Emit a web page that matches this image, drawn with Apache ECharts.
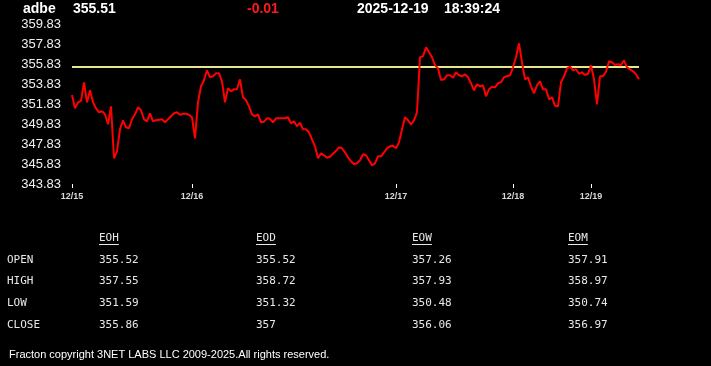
<!DOCTYPE html>
<html>
<head>
<meta charset="utf-8">
<script src="https://cdn.jsdelivr.net/npm/echarts@6/dist/echarts.min.js"></script>
<style>
html,body{margin:0;padding:0;background:#000;}
#chart{width:711px;height:366px;}
</style>
</head>
<body>
<div id="chart"></div>
<script>
// ---- data ----
const symbol = 'adbe';
const lastPrice = '355.51';
const change = '-0.01';
const quoteDate = '2025-12-19';
const quoteTime = '18:39:24';
const refLine = 355.52;

const dayLabels = ['12/15', '12/16', '12/17', '12/18', '12/19'];
const dec15 = [352.73, 351.4, 352.0, 352.15, 354.0, 352.0, 353.2, 352.0, 351.4, 351.0,
  351.1, 350.8, 349.8, 351.6, 346.4, 347.1, 349.3, 350.2, 349.5, 349.4,
  350.3, 350.8, 351.5, 351.2, 350.3, 350.1, 350.9, 350.1, 350.2, 350.25,
  350.3, 350.0, 350.3, 350.6, 350.9, 351.0, 350.75, 350.85, 350.85, 350.75];
const dec16 = [350.5, 348.4, 352.0, 353.6, 354.2, 355.2, 354.5, 354.6, 354.9, 354.9,
  354.1, 352.0, 353.4, 353.1, 353.3, 353.3, 354.3, 352.5, 352.2, 351.6,
  350.8, 350.6, 350.8, 350.0, 350.06, 350.4, 350.35, 350.0, 350.4, 350.4,
  350.4, 350.4, 350.5, 349.9, 350.1, 349.6, 349.96, 349.3, 349.3, 349.0,
  348.3, 347.6, 346.4, 346.9, 346.7, 346.45, 346.56, 346.85, 347.15, 347.5,
  347.4, 347.0, 346.5, 346.1, 345.8, 345.9, 346.2, 346.8, 346.7, 346.2,
  345.7, 345.9, 346.6, 346.6, 347.0, 347.4, 347.6, 347.65];
const dec17 = [347.4, 348.0, 349.3, 350.5, 350.2, 349.8, 350.2, 351.0, 356.5, 356.6,
  357.5, 357.0, 356.5, 355.7, 355.4, 354.23, 354.3, 354.7, 354.7, 354.45,
  355.0, 354.7, 354.6, 354.8, 354.5, 353.9, 353.2, 353.8, 353.6, 353.7,
  352.6, 353.3, 353.55, 353.5, 353.9, 354.0, 354.5, 354.6, 354.7];
const dec18 = [355.5, 356.5, 357.9, 356.0, 354.3, 354.5, 353.6, 352.9, 353.7, 354.1,
  353.3, 353.3, 352.3, 352.5, 351.65, 351.6, 354.0, 354.6, 355.4, 355.56,
  355.2, 355.3, 354.85, 355.0, 354.73, 354.85];
const dec19 = [355.7, 354.3, 351.8, 354.6, 354.6, 355.06, 356.1, 356.0, 355.73, 355.8,
  355.7, 356.2, 355.5, 355.3, 355.1, 354.8, 354.3];

const yMin = 343.83;
const yMax = 359.83;
const yStep = 2;

const rowLabels = ['OPEN', 'HIGH', 'LOW', 'CLOSE'];
const colLabels = ['EOH', 'EOD', 'EOW', 'EOM'];
const eoh = ['355.52', '357.55', '351.59', '355.86'];
const eod = ['355.52', '358.72', '351.32', '357'];
const eow = ['357.26', '357.93', '350.48', '356.06'];
const eom = ['357.91', '358.97', '350.74', '356.97'];
const footer = 'Fracton copyright 3NET LABS LLC 2009-2025.All rights reserved.';

// ---- build ----
const days = [dec15, dec16, dec17, dec18, dec19];
const categories = [];
const values = [];
days.forEach((arr, d) => {
  arr.forEach((v, k) => {
    categories.push(dayLabels[d] + '|' + k);
    values.push(v);
  });
});
const isDayStart = (i, v) => String(v).endsWith('|0');

const chart = echarts.init(document.getElementById('chart'), null, {renderer: 'canvas'});

const txt = (x, y, text, fill, font, align) => ({
  type: 'text', x: x, y: y, silent: true,
  style: {text: text, fill: fill, font: font, align: align || 'left', verticalAlign: 'middle'}
});

const graphics = [];
const hdrFont = 'bold 14px "Liberation Sans", Arial, sans-serif';
graphics.push(txt(23, 9.5, symbol, '#ffffff', hdrFont));
graphics.push(txt(73, 9.5, lastPrice, '#ffffff', hdrFont));
graphics.push(txt(247, 9.5, change, '#ff1a1a', hdrFont));
graphics.push(txt(357, 9.5, quoteDate, '#ffffff', hdrFont));
graphics.push(txt(444, 9.5, quoteTime, '#ffffff', hdrFont));

const monoFont = '11px "DejaVu Sans Mono", monospace';
const colX = [99, 256, 412, 568];
const rowY = [260, 281, 303, 325];
const tableCols = [eoh, eod, eow, eom];
colLabels.forEach((c, j) => {
  graphics.push(txt(colX[j], 238, c, '#e8e8e8', monoFont));
  graphics.push({type: 'line', silent: true,
    shape: {x1: colX[j], y1: 244.5, x2: colX[j] + c.length * 6.62, y2: 244.5},
    style: {stroke: '#e8e8e8', lineWidth: 1}});
});
rowLabels.forEach((r, i) => {
  graphics.push(txt(7, rowY[i], r, '#e8e8e8', monoFont));
  tableCols.forEach((col, j) => {
    graphics.push(txt(colX[j], rowY[i], col[i], '#e8e8e8', monoFont));
  });
});
graphics.push(txt(9, 355, footer, '#ffffff', '11px "Liberation Sans", Arial, sans-serif'));

chart.setOption({
  backgroundColor: '#000000',
  animation: false,
  grid: {left: 72, right: 72, top: 24, bottom: 182, containLabel: false},
  xAxis: {
    type: 'category',
    data: categories,
    boundaryGap: false,
    axisLine: {show: false},
    axisTick: {show: true, interval: isDayStart, length: 4, lineStyle: {color: '#ffffff', width: 1}},
    axisLabel: {
      interval: isDayStart,
      formatter: v => String(v).split('|')[0],
      color: '#d8d8d8',
      fontSize: 9,
      fontWeight: 'bold',
      fontFamily: '"Liberation Sans", Arial, sans-serif',
      margin: 8
    },
    splitLine: {show: false}
  },
  yAxis: {
    type: 'value',
    min: yMin,
    max: yMax,
    interval: yStep,
    axisLine: {show: false},
    axisTick: {show: false},
    splitLine: {show: false},
    axisLabel: {
      color: '#f0f0f0',
      fontSize: 13,
      fontFamily: '"Liberation Sans", Arial, sans-serif',
      margin: 11,
      formatter: v => v.toFixed(2)
    }
  },
  series: [{
    type: 'line',
    data: values,
    showSymbol: false,
    symbol: 'none',
    lineStyle: {color: '#ff0000', width: 2},
    z: 3,
    markLine: {
      silent: true,
      symbol: 'none',
      label: {show: false},
      lineStyle: {color: '#e6e68c', width: 2, type: 'solid'},
      data: [{yAxis: refLine}],
      z: 2
    }
  }],
  graphic: graphics
});
</script>
</body>
</html>
